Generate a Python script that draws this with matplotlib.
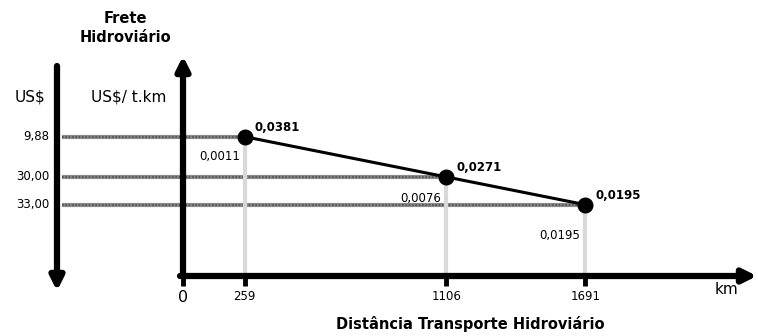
import matplotlib
matplotlib.use("Agg")
import matplotlib.pyplot as plt

plt.rcParams['font.family'] = ['DejaVu Sans']

# dados
dist_km = [259, 1106, 1691]
frete_tkm = [0.0381, 0.0271, 0.0195]
frete_tkm_lbl = ['0,0381', '0,0271', '0,0195']
frete_abaixo = ['0,0011', '0,0076', '0,0195']
frete_usd = ['9,88', '30,00', '33,00']

W, H = 758, 336
X0, KX = 183, 0.238      # pixel da origem / pixels por km
Y0, KY = 276, 3656       # pixel da origem / pixels por US$/t.km


def px(x):
    return (x - X0) / KX


def py(y):
    return (Y0 - y) / KY


fig = plt.figure(figsize=(W / 100, H / 100), dpi=100)
ax = fig.add_axes([0, 0, 1, 1])
ax.set_xlim(px(0), px(W))
ax.set_ylim(py(H), py(0))
ax.axis('off')

# linhas horizontais pontilhadas
for v, x, lbl in zip(frete_tkm, dist_km, frete_usd):
    ax.plot([px(62), x], [v, v], color='#8a8a8a', lw=3, solid_capstyle='butt', zorder=1)
    ax.plot([px(62), x], [v, v], color='#4d4d4d', lw=1.2, ls=(0, (1, 1)), zorder=1)
    ax.text(px(49), v, lbl, ha='right', va='center', fontsize=8.5)

# verticais cinza
ax.vlines(dist_km, 0, frete_tkm, color='#d9d9d9', lw=3, zorder=1)

# curva do frete
ax.plot(dist_km, frete_tkm, color='black', lw=2.2, marker='o', markersize=10.5, zorder=3)

for x, v, a in zip(dist_km, frete_tkm, frete_tkm_lbl):
    ax.annotate(a, (x, v), xytext=(10, 9), textcoords='offset pixels',
                ha='left', va='center', fontsize=8.5, fontweight='bold')
for x, v, b, dy in zip(dist_km, frete_tkm, frete_abaixo, [-20, -22, -31]):
    ax.annotate(b, (x, v), xytext=(-5, dy), textcoords='offset pixels',
                ha='right', va='center', fontsize=8.5)

# eixos com setas
arrow = dict(arrowstyle='-|>', lw=4.5, color='black', mutation_scale=20, shrinkA=0, shrinkB=0)
ax.annotate('', xy=(0, py(56)), xytext=(0, 0), arrowprops=arrow, zorder=4)
ax.annotate('', xy=(px(757), 0), xytext=(px(180), 0), arrowprops=arrow, zorder=4)
ax.annotate('', xy=(px(57), py(291)), xytext=(px(57), py(66)), arrowprops=arrow, zorder=4)

# marcas do eixo x
ax.vlines([0] + dist_km, py(276), py(286), color='black', lw=3.5, zorder=4)
ax.text(0, py(298), '0', ha='center', va='center', fontsize=11.5)
for x in dist_km:
    ax.text(x, py(297), str(x), ha='center', va='center', fontsize=8.5)

ax.text(px(727), py(289), 'km', ha='center', va='center', fontsize=11)
ax.text(px(470), py(324), 'Distância Transporte Hidroviário', ha='center', va='center',
        fontsize=10.5, fontweight='bold')
ax.text(px(125), py(28), 'Frete\nHidroviário', ha='center', va='center',
        fontsize=10.5, fontweight='bold', linespacing=1.3)
ax.text(px(30), py(97), 'US$', ha='center', va='center', fontsize=11)
ax.text(px(129), py(97), 'US$/ t.km', ha='center', va='center', fontsize=11)

fig.savefig('out.png', dpi=100)
